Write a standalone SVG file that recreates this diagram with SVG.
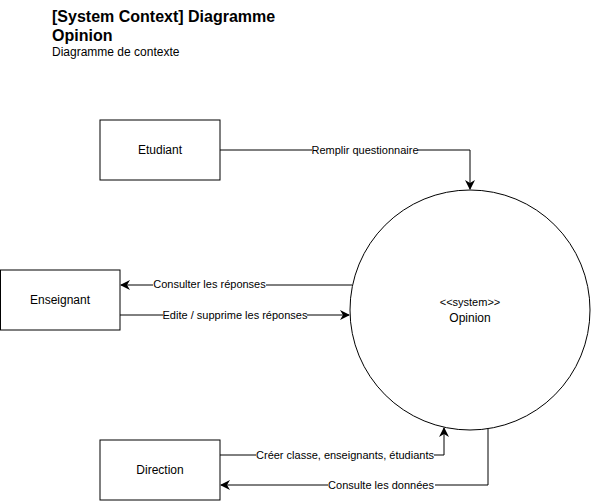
<svg xmlns="http://www.w3.org/2000/svg" width="591" height="501" viewBox="0 0 591 501">
<defs>
<marker id="arr" viewBox="0 0 10 10" refX="9" refY="5" markerWidth="10" markerHeight="10" markerUnits="userSpaceOnUse" orient="auto">
<path d="M0,0 L10,5 L0,10 L3,5 Z" fill="#000"/>
</marker>
</defs>
<style>
.box{fill:#fff;stroke:#000;stroke-width:1}
.node{font-family:"Liberation Sans",Arial,sans-serif;font-size:12px;fill:#000;text-anchor:middle}
.edge{fill:none;stroke:#000;stroke-width:1;marker-end:url(#arr)}
.lbl{font-family:"Liberation Sans",Arial,sans-serif;font-size:11px;fill:#000;text-anchor:middle}
.lblbg{fill:#fff}
.title{font-family:"Liberation Sans",Arial,sans-serif;font-size:16px;font-weight:bold;fill:#000}
.sub{font-family:"Liberation Sans",Arial,sans-serif;font-size:12px;fill:#000}
</style>
<rect width="591" height="501" fill="#fff"/>
<g id="title">
<text class="title" x="52" y="22">[System Context] Diagramme</text>
<text class="title" x="52" y="41">Opinion</text>
<text class="sub" x="52" y="56">Diagramme de contexte</text>
</g>
<g id="connectors">
<path class="edge" d="M220,150 H470 V189"/>
<path class="edge" d="M352,285 H121"/>
<path class="edge" d="M120,315 H349"/>
<path class="edge" d="M220,455 H444 V428"/>
<path class="edge" d="M488,429 V485 H221"/>
<rect class="lblbg" x="312" y="143" width="106" height="14"/>
<text class="lbl" x="365" y="154">Remplir questionnaire</text>
<rect class="lblbg" x="153" y="278" width="113" height="14"/>
<text class="lbl" x="209.5" y="288">Consulter les réponses</text>
<rect class="lblbg" x="163" y="308" width="144" height="14"/>
<text class="lbl" x="235" y="319">Edite / supprime les réponses</text>
<rect class="lblbg" x="256" y="448" width="178" height="14"/>
<text class="lbl" x="345" y="459">Créer classe, enseignants, étudiants</text>
<rect class="lblbg" x="328" y="478" width="107" height="14"/>
<text class="lbl" x="381" y="489">Consulte les données</text>
</g>
<g id="etudiant">
<rect class="box" x="100" y="120" width="120" height="60"/>
<text class="node" x="160" y="154">Etudiant</text>
</g>
<g id="enseignant">
<rect class="box" x="0.5" y="270" width="119.5" height="60"/>
<text class="node" x="60" y="304">Enseignant</text>
</g>
<g id="direction">
<rect class="box" x="100" y="440" width="120" height="60"/>
<text class="node" x="160" y="474">Direction</text>
</g>
<g id="opinion">
<circle cx="470" cy="310" r="120" fill="none" stroke="#000" stroke-width="1"/>
<text class="lbl" x="470" y="306">&lt;&lt;system&gt;&gt;</text>
<text class="node" x="470" y="322">Opinion</text>
</g>
</svg>
